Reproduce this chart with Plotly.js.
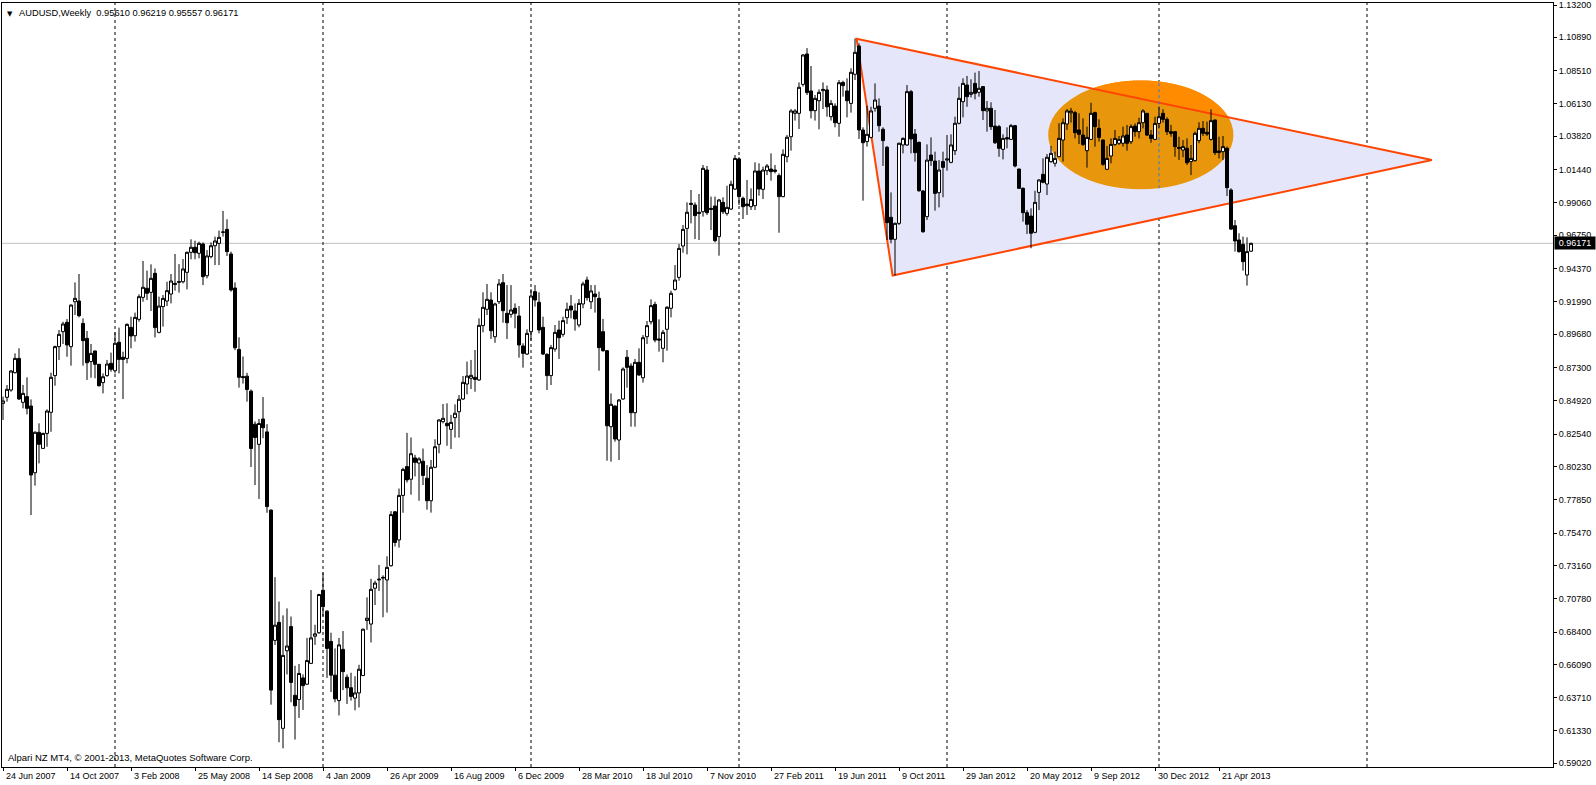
<!DOCTYPE html>
<html>
<head>
<meta charset="utf-8">
<script src="https://cdn.plot.ly/plotly-3.0.1.min.js"></script>
<style>
  html, body { margin: 0; padding: 0; background: #ffffff; }
  #chart { width: 1596px; height: 785px; }
</style>
</head>
<body>
<div id="chart"></div>
<script>
// ---- Weekly AUDUSD candles, week of 24 Jun 2007 (index 0) to week of 16 Jun 2013 (index 312) ----
const openP = [
0.8474,0.8517,0.8569,0.8693,0.8795,0.8481,0.8522,0.8455,0.7978,0.8267,
0.8152,0.8259,0.8410,0.8672,0.8879,0.8986,0.9053,0.8879,0.9200,0.9205,
0.9045,0.8938,0.8772,0.8848,0.8753,0.8622,0.8672,0.8760,0.8707,0.8910,
0.8803,0.8795,0.9017,0.8957,0.9074,0.9231,0.9296,0.9267,0.9403,0.8981,
0.9165,0.9205,0.9255,0.9331,0.9338,0.9343,0.9410,0.9553,0.9589,0.9546,
0.9612,0.9386,0.9522,0.9600,0.9617,0.9696,0.9717,0.9541,0.9298,0.8859,
0.8665,0.8668,0.8561,0.8325,0.8181,0.8362,0.8270,0.7711,0.6780,0.6909,
0.6152,0.6706,0.6879,0.6388,0.6358,0.6512,0.6467,0.6616,0.6810,0.6835,
0.7138,0.6989,0.6773,0.6532,0.6350,0.6716,0.6517,0.6442,0.6368,0.6405,
0.6529,0.6922,0.6897,0.7153,0.7212,0.7225,0.7212,0.7314,0.7699,0.7498,
0.7816,0.8022,0.7932,0.8084,0.8047,0.8060,0.7939,0.7778,0.8017,0.8181,
0.8343,0.8331,0.8288,0.8372,0.8414,0.8505,0.8612,0.8653,0.8660,0.8641,
0.9029,0.9146,0.9212,0.8950,0.9200,0.9336,0.9117,0.9110,0.9153,0.9098,
0.8884,0.8826,0.8986,0.9272,0.9196,0.9017,0.8824,0.8672,0.8862,0.8998,
0.8967,0.9086,0.9169,0.9134,0.9034,0.9184,0.9355,0.9200,0.9255,0.9224,
0.8986,0.8850,0.8307,0.8455,0.8212,0.8505,0.8803,0.8741,0.8407,0.8767,
0.8657,0.8950,0.9057,0.9181,0.8934,0.8867,0.9003,0.9153,0.9288,0.9374,
0.9598,0.9724,0.9903,0.9891,0.9839,0.9843,1.0141,0.9867,0.9884,0.9665,
0.9910,0.9831,0.9862,1.0005,1.0220,0.9939,0.9898,0.9879,0.9886,1.0134,
1.0003,1.0136,1.0148,1.0141,1.0101,0.9951,1.0236,1.0379,1.0546,1.0546,
1.0753,1.0970,1.0706,1.0565,1.0636,1.0708,1.0713,1.0522,1.0598,1.0475,
1.0767,1.0706,1.0617,1.0825,1.1027,1.0427,1.0344,1.0374,1.0582,1.0598,
1.0432,1.0303,0.9803,0.9646,0.9760,1.0320,1.0320,1.0701,1.0398,1.0339,
0.9991,0.9808,1.0248,1.0205,0.9979,1.0201,1.0212,1.0196,1.0279,1.0475,
1.0629,1.0748,1.0682,1.0760,1.0696,1.0737,1.0563,1.0582,1.0455,1.0451,
1.0289,1.0372,1.0360,1.0458,1.0148,1.0010,0.9836,0.9812,0.9696,0.9981,
1.0110,1.0041,1.0201,1.0189,1.0236,1.0355,1.0470,1.0550,1.0551,1.0427,
1.0391,1.0279,1.0360,1.0551,1.0439,1.0355,1.0146,1.0241,1.0324,1.0332,
1.0332,1.0391,1.0343,1.0455,1.0415,1.0479,1.0546,1.0391,1.0360,1.0474,
1.0546,1.0503,1.0415,1.0415,1.0303,1.0284,1.0296,1.0201,1.0208,1.0351,
1.0439,1.0410,1.0360,1.0498,1.0277,1.0272,1.0296,0.9998,0.9743,0.9641,
0.9610,0.9391,0.95610];
const highP = [
0.8522,0.8605,0.8712,0.8831,0.8867,0.8605,0.8660,0.8502,0.8275,0.8331,
0.8264,0.8431,0.8693,0.8886,0.8998,0.9057,0.9076,0.9181,0.9338,0.9398,
0.9081,0.8991,0.8898,0.8850,0.8755,0.8688,0.8784,0.8836,0.8981,0.9015,
0.8843,0.9045,0.9093,0.9122,0.9253,0.9491,0.9422,0.9467,0.9438,0.9236,
0.9248,0.9343,0.9398,0.9541,0.9469,0.9505,0.9558,0.9646,0.9636,0.9629,
0.9624,0.9569,0.9624,0.9665,0.9708,0.9849,0.9789,0.9558,0.9338,0.8946,
0.8809,0.8692,0.8573,0.8345,0.8362,0.8519,0.8325,0.7716,0.7232,0.7058,
0.6959,0.7009,0.6951,0.6599,0.6611,0.6537,0.6798,0.7140,0.6892,0.7113,
0.7264,0.6996,0.6835,0.6723,0.6798,0.6847,0.6537,0.6549,0.6524,0.6606,
0.6865,0.7088,0.7220,0.7207,0.7319,0.7245,0.7381,0.7704,0.7704,0.7865,
0.8014,0.8263,0.8230,0.8106,0.8089,0.8151,0.8033,0.8069,0.8217,0.8360,
0.8469,0.8474,0.8391,0.8467,0.8533,0.8669,0.8772,0.8784,0.8855,0.9081,
0.9267,0.9327,0.9267,0.9193,0.9362,0.9398,0.9319,0.9319,0.9188,0.9169,
0.8903,0.9003,0.9289,0.9319,0.9267,0.9093,0.8831,0.8891,0.9034,0.9065,
0.9093,0.9193,0.9248,0.9188,0.9219,0.9343,0.9379,0.9319,0.9319,0.9272,
0.9077,0.8855,0.8545,0.8458,0.8505,0.8731,0.8855,0.8760,0.8791,0.8867,
0.8962,0.9062,0.9217,0.9200,0.9074,0.8998,0.9169,0.9279,0.9462,0.9612,
0.9748,0.9910,0.9998,0.9910,0.9970,1.0177,1.0170,0.9951,0.9951,0.9934,
0.9946,1.0029,1.0065,1.0248,1.0232,0.9951,1.0070,1.0010,1.0196,1.0189,
1.0165,1.0184,1.0260,1.0177,1.0117,1.0289,1.0391,1.0577,1.0577,1.0767,
1.0970,1.1012,1.0884,1.0677,1.0717,1.0767,1.0744,1.0641,1.0617,1.0784,
1.0779,1.0796,1.0868,1.1080,1.1046,1.0446,1.0601,1.0593,1.0760,1.0653,
1.0446,1.0313,0.9981,0.9765,1.0336,1.0374,1.0748,1.0713,1.0434,1.0344,
0.9998,1.0324,1.0374,1.0272,1.0212,1.0272,1.0391,1.0396,1.0522,1.0737,
1.0796,1.0813,1.0789,1.0837,1.0848,1.0740,1.0634,1.0625,1.0570,1.0463,
1.0396,1.0446,1.0470,1.0463,1.0150,1.0017,0.9855,0.9867,0.9993,1.0074,
1.0224,1.0255,1.0313,1.0272,1.0475,1.0510,1.0577,1.0585,1.0563,1.0546,
1.0510,1.0451,1.0622,1.0558,1.0503,1.0360,1.0313,1.0367,1.0427,1.0384,
1.0451,1.0463,1.0467,1.0474,1.0515,1.0575,1.0548,1.0427,1.0522,1.0594,
1.0575,1.0517,1.0463,1.0418,1.0379,1.0355,1.0367,1.0320,1.0415,1.0482,
1.0491,1.0486,1.0575,1.0503,1.0379,1.0384,1.0308,1.0010,0.9784,0.9689,
0.9665,0.9660,0.96219];
const lowP = [
0.8355,0.8486,0.8557,0.8688,0.8498,0.8438,0.8395,0.7676,0.7886,0.8045,
0.8150,0.8164,0.8271,0.8600,0.8784,0.8898,0.8807,0.8743,0.9105,0.9088,
0.8743,0.8641,0.8657,0.8653,0.8593,0.8545,0.8664,0.8700,0.8688,0.8688,
0.8505,0.8760,0.8867,0.8915,0.9057,0.9200,0.9212,0.9134,0.8945,0.8974,
0.9022,0.9169,0.9188,0.9279,0.9265,0.9331,0.9288,0.9503,0.9503,0.9510,
0.9319,0.9367,0.9510,0.9462,0.9462,0.9665,0.9527,0.9272,0.8854,0.8586,
0.8615,0.8486,0.8019,0.7890,0.7791,0.8225,0.7692,0.6321,0.6748,0.6052,
0.6009,0.6537,0.6338,0.6072,0.6226,0.6283,0.6462,0.6611,0.6748,0.6827,
0.6951,0.6512,0.6412,0.6338,0.6244,0.6425,0.6326,0.6350,0.6281,0.6301,
0.6525,0.6855,0.6765,0.7033,0.7133,0.6946,0.6979,0.7307,0.7451,0.7443,
0.7692,0.7908,0.7821,0.7952,0.7778,0.7890,0.7714,0.7693,0.8010,0.8117,
0.8331,0.8171,0.8148,0.8229,0.8229,0.8498,0.8538,0.8576,0.8557,0.8634,
0.8981,0.9105,0.8934,0.8907,0.9184,0.9050,0.8934,0.9086,0.9010,0.8800,
0.8729,0.8819,0.8922,0.9165,0.8974,0.8819,0.8569,0.8605,0.8843,0.8791,
0.8950,0.9041,0.9081,0.8993,0.9017,0.9153,0.9208,0.9148,0.9122,0.8707,
0.8843,0.8064,0.8057,0.8200,0.8069,0.8498,0.8586,0.8307,0.8307,0.8672,
0.8622,0.8898,0.9038,0.8910,0.8843,0.8767,0.8850,0.9088,0.9279,0.9350,
0.9550,0.9538,0.9760,0.9648,0.9641,0.9808,0.9820,0.9712,0.9624,0.9529,
0.9827,0.9815,0.9855,0.9998,0.9891,0.9791,0.9820,0.9855,0.9855,0.9958,
0.9934,1.0105,1.0065,1.0117,0.9693,0.9946,1.0196,1.0279,1.0494,1.0434,
1.0737,1.0677,1.0510,1.0494,1.0432,1.0577,1.0522,1.0494,1.0446,1.0379,
1.0665,1.0517,1.0551,1.0784,1.0363,0.9922,1.0308,1.0367,1.0558,1.0415,
1.0170,0.9641,0.9617,0.9387,0.9748,1.0260,1.0313,1.0260,1.0201,0.9986,
0.9693,0.9784,1.0170,0.9851,0.9874,0.9946,1.0136,1.0189,1.0248,1.0467,
1.0517,1.0593,1.0660,1.0646,1.0665,1.0498,1.0415,1.0427,1.0327,1.0236,
1.0217,1.0296,1.0355,1.0160,1.0005,0.9772,0.9684,0.9582,0.9689,0.9855,
1.0046,0.9962,1.0193,1.0165,1.0232,1.0201,1.0427,1.0480,1.0367,1.0327,
1.0313,1.0158,1.0355,1.0308,1.0344,1.0172,1.0141,1.0189,1.0313,1.0320,
1.0308,1.0279,1.0327,1.0379,1.0367,1.0439,1.0384,1.0336,1.0355,1.0439,
1.0479,1.0391,1.0379,1.0236,1.0213,1.0232,1.0177,1.0105,1.0201,1.0332,
1.0384,1.0384,1.0351,1.0248,1.0224,1.0213,0.9955,0.9712,0.9558,0.9550,
0.9422,0.9315,0.95557];
const closeP = [
0.8491,0.8574,0.8705,0.8795,0.8505,0.8545,0.8438,0.7962,0.8267,0.8181,
0.8259,0.8419,0.8660,0.8879,0.8967,0.9041,0.8891,0.9176,0.9224,0.9100,
0.8922,0.8764,0.8831,0.8753,0.8600,0.8664,0.8755,0.8717,0.8903,0.8788,
0.8788,0.9038,0.8955,0.9088,0.9236,0.9303,0.9260,0.9367,0.9015,0.9169,
0.9224,0.9279,0.9348,0.9324,0.9343,0.9434,0.9553,0.9589,0.9550,0.9617,
0.9379,0.9527,0.9600,0.9634,0.9660,0.9698,0.9558,0.9284,0.8871,0.8660,
0.8658,0.8573,0.8151,0.8230,0.8330,0.8300,0.7736,0.6425,0.6889,0.6214,
0.6673,0.6740,0.6480,0.6313,0.6544,0.6457,0.6636,0.6798,0.6827,0.7108,
0.7021,0.6723,0.6532,0.6363,0.6748,0.6557,0.6442,0.6380,0.6405,0.6574,
0.6860,0.6939,0.7145,0.7190,0.7217,0.7230,0.7302,0.7679,0.7480,0.7816,
0.8002,0.7927,0.8114,0.8052,0.8077,0.7959,0.7778,0.8017,0.8164,0.8355,
0.8367,0.8314,0.8338,0.8403,0.8503,0.8624,0.8669,0.8674,0.8645,0.9031,
0.9160,0.9217,0.8993,0.9184,0.9327,0.9136,0.9050,0.9141,0.9117,0.8891,
0.8831,0.8974,0.9241,0.9212,0.8998,0.8826,0.8672,0.8872,0.8981,0.8943,
0.9065,0.9146,0.9141,0.9077,0.9188,0.9327,0.9229,0.9277,0.9236,0.8872,
0.8850,0.8314,0.8467,0.8219,0.8498,0.8719,0.8731,0.8407,0.8767,0.8676,
0.8943,0.9029,0.9172,0.8926,0.8926,0.8981,0.9160,0.9260,0.9355,0.9581,
0.9717,0.9839,0.9896,0.9815,0.9831,1.0153,0.9836,0.9860,0.9636,0.9927,
0.9843,0.9874,1.0039,1.0224,0.9951,0.9879,0.9886,0.9931,1.0134,1.0005,
1.0141,1.0170,1.0129,1.0132,0.9951,1.0253,1.0375,1.0563,1.0563,1.0732,
1.0963,1.0694,1.0565,1.0653,1.0696,1.0717,1.0593,1.0617,1.0479,1.0765,
1.0744,1.0636,1.0839,1.0982,1.0427,1.0336,1.0396,1.0563,1.0641,1.0458,
1.0351,0.9765,0.9646,0.9760,1.0332,1.0367,1.0701,1.0363,1.0265,0.9993,
0.9700,1.0212,1.0208,0.9974,1.0141,1.0160,1.0220,1.0320,1.0475,1.0653,
1.0760,1.0665,1.0696,1.0689,1.0725,1.0565,1.0582,1.0451,1.0336,1.0296,
1.0367,1.0363,1.0458,1.0170,1.0010,0.9836,0.9753,0.9689,0.9910,1.0070,
1.0053,1.0232,1.0260,1.0224,1.0367,1.0479,1.0563,1.0562,1.0408,1.0396,
1.0324,1.0374,1.0546,1.0451,1.0374,1.0182,1.0224,1.0324,1.0367,1.0360,
1.0384,1.0332,1.0451,1.0415,1.0479,1.0563,1.0391,1.0367,1.0474,1.0522,
1.0503,1.0415,1.0403,1.0308,1.0296,1.0308,1.0193,1.0224,1.0403,1.0439,
1.0403,1.0398,1.0494,1.0265,1.0267,1.0308,1.0015,0.9719,0.9634,0.9558,
0.9486,0.9558,0.96171];

// ---- Axis labels ----
const dateTickIdx = [0,16,32,48,64,80,96,112,128,144,160,176,192,208,224,240,256,272,288,304];
const dateTickText = ["24 Jun 2007","14 Oct 2007","3 Feb 2008","25 May 2008","14 Sep 2008","4 Jan 2009",
  "26 Apr 2009","16 Aug 2009","6 Dec 2009","28 Mar 2010","18 Jul 2010","7 Nov 2010","27 Feb 2011",
  "19 Jun 2011","9 Oct 2011","29 Jan 2012","20 May 2012","9 Sep 2012","30 Dec 2012","21 Apr 2013"];
const yearStartIdx = [28,80,132,184,236,289,341];
const priceTicks = [1.13200,1.10890,1.08510,1.06130,1.03820,1.01440,0.99060,0.96750,0.94370,0.91990,
  0.89680,0.87300,0.84920,0.82540,0.80230,0.77850,0.75470,0.73160,0.70780,0.68400,0.66090,0.63710,0.61330,0.59020];
const lastPrice = 0.96171;
const headerText = "AUDUSD,Weekly  0.95610 0.96219 0.95557 0.96171";
const copyrightText = "Alpari NZ MT4, \u00a9 2001-2013, MetaQuotes Software Corp.";

// ---- Drawn objects (bar index, price) ----
const triangleX = [213.4, 222.4, 357.2];
const triangleY = [1.1078, 0.9387, 1.0212];
const ellipseCenter = [284.45, 1.0392];
const ellipseRadius = [23.15, 0.0389];

const idx = openP.map((_, i) => i);

const trace = {
  type: 'candlestick',
  x: idx, open: openP, high: highP, low: lowP, close: closeP,
  increasing: { line: { color: '#000000', width: 1 }, fillcolor: '#ffffff' },
  decreasing: { line: { color: '#000000', width: 1 }, fillcolor: '#000000' },
  whiskerwidth: 0,
  hoverinfo: 'skip',
  showlegend: false
};

const triPath = 'M' + triangleX.map((x, k) => x + ',' + triangleY[k]).join(' L') + ' Z';

const [cx, cy] = ellipseCenter, [rx, ry] = ellipseRadius;
function topLineY(x) {
  return triangleY[0] + (triangleY[2] - triangleY[0]) * (x - triangleX[0]) / (triangleX[2] - triangleX[0]);
}
const N = 1440;
const pts = [];
for (let k = 0; k < N; k++) {
  const t = 2 * Math.PI * k / N;
  pts.push([cx + rx * Math.cos(t), cy + ry * Math.sin(t)]);
}
let start = pts.findIndex(p => p[1] < topLineY(p[0]));
const above = [];
for (let k = 0; k < N; k++) {
  const p = pts[(start + k) % N];
  if (p[1] > topLineY(p[0])) above.push(p);
}
const abovePath = above.length ? 'M' + above.map(p => p[0].toFixed(3) + ',' + p[1].toFixed(5)).join(' L') + ' Z' : '';

const shapes = [];
shapes.push({ type: 'path', path: triPath, xref: 'x', yref: 'y', fillcolor: '#E6E6FA', line: { width: 0 }, layer: 'below' });
shapes.push({ type: 'circle', xref: 'x', yref: 'y', x0: cx - rx, x1: cx + rx, y0: cy - ry, y1: cy + ry,
  fillcolor: '#E8960C', line: { width: 0 }, layer: 'below' });
if (abovePath) shapes.push({ type: 'path', path: abovePath, xref: 'x', yref: 'y', fillcolor: '#FF8C00', line: { width: 0 }, layer: 'below' });
shapes.push({ type: 'path', path: triPath, xref: 'x', yref: 'y', fillcolor: 'rgba(0,0,0,0)', line: { color: '#FF4500', width: 2 }, layer: 'below' });
shapes.push({ type: 'line', xref: 'paper', yref: 'y', x0: 0, x1: 1, y0: lastPrice, y1: lastPrice,
  line: { color: '#C0C0C0', width: 1 }, layer: 'below' });
yearStartIdx.forEach(xi => {
  shapes.push({ type: 'line', xref: 'x', yref: 'paper', x0: xi, x1: xi, y0: 0, y1: 1,
    line: { color: '#000000', width: 1, dash: '3px,3px' }, layer: 'below' });
  const dx = (xi - cx) / rx;
  if (Math.abs(dx) < 1) {
    const dy = ry * Math.sqrt(1 - dx * dx);
    shapes.push({ type: 'line', xref: 'x', yref: 'y', x0: xi, x1: xi, y0: cy - dy, y1: cy + dy,
      line: { color: '#2E7BDB', width: 1, dash: '3px,3px' }, layer: 'below' });
  }
});

const FONT = 'Liberation Sans, Arial, sans-serif';
const annotations = [];
dateTickIdx.forEach((xi, k) => {
  annotations.push({ x: xi, xref: 'x', y: 0, yref: 'paper', yanchor: 'top', xanchor: 'left',
    xshift: 1, yshift: -2, text: dateTickText[k], showarrow: false,
    font: { family: FONT, size: 9, color: '#000000' } });
});
annotations.push({ x: 0, xref: 'paper', y: 1, yref: 'paper', xanchor: 'left', yanchor: 'top',
  xshift: 3, yshift: -5, text: '\u25BC', showarrow: false, font: { family: 'DejaVu Sans', size: 7, color: '#000000' } });
annotations.push({ x: 0, xref: 'paper', y: 1, yref: 'paper', xanchor: 'left', yanchor: 'top',
  xshift: 15, yshift: -3, text: headerText, showarrow: false, font: { family: FONT, size: 9.3, color: '#000000' } });
annotations.push({ x: 0, xref: 'paper', y: 0, yref: 'paper', xanchor: 'left', yanchor: 'bottom',
  xshift: 4, yshift: 2, text: copyrightText, showarrow: false, font: { family: FONT, size: 9.5, color: '#000000' } });
annotations.push({ x: 1, xref: 'paper', y: lastPrice, yref: 'y', xanchor: 'left', yanchor: 'middle',
  xshift: 1, text: lastPrice.toFixed(5), showarrow: false, bgcolor: '#000000', borderpad: 1, width: 38,
  font: { family: FONT, size: 9, color: '#ffffff' } });

const layout = {
  width: 1596, height: 785,
  margin: { l: 2, r: 43, t: 3, b: 18, pad: 0 },
  paper_bgcolor: '#ffffff', plot_bgcolor: '#ffffff',
  showlegend: false, hovermode: false,
  boxgap: 0.25, boxgroupgap: 0,
  xaxis: {
    range: [-0.25, 387.5], rangeslider: { visible: false },
    showgrid: false, zeroline: false, showline: true, mirror: true, linecolor: '#000000', linewidth: 1,
    ticks: 'outside', ticklen: 3, tickcolor: '#000000', tickvals: dateTickIdx, showticklabels: false,
    fixedrange: true
  },
  yaxis: {
    side: 'right', range: [0.58756, 1.13343],
    showgrid: false, zeroline: false, showline: true, mirror: true, linecolor: '#000000', linewidth: 1,
    ticks: 'outside', ticklen: 3, tickcolor: '#000000',
    tickvals: priceTicks, ticktext: priceTicks.map(v => v.toFixed(5)),
    tickfont: { family: FONT, size: 9, color: '#000000' }, fixedrange: true
  },
  shapes: shapes,
  annotations: annotations
};

Plotly.newPlot('chart', [trace], layout, { displayModeBar: false, staticPlot: true });
</script>
</body>
</html>
